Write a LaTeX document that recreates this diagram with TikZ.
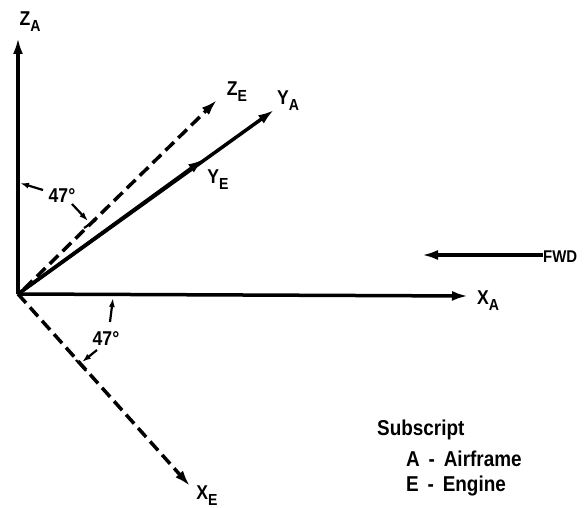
\documentclass[tikz,border=0pt]{standalone}
\usepackage{fontspec}
\setmainfont{Liberation Sans}[FakeStretch=0.88]
\usetikzlibrary{arrows.meta}
\newcommand{\lbl}[2]{#1\raisebox{-6pt}{\fontsize{16}{16}\selectfont #2}}
\begin{document}
\begin{tikzpicture}[x=1pt,y=-1pt,
  axis/.style={line width=3.5pt,-{Latex[length=16pt,width=10pt]}},
  daxis/.style={line width=3.5pt,dash pattern=on 12pt off 6pt,-{Latex[length=16pt,width=10pt]}},
  thin arrow/.style={line width=2.2pt,-{Latex[length=9pt,width=6pt]}},
  lab/.style={font=\bfseries\fontsize{20}{20}\selectfont,inner sep=0pt},
  ang/.style={font=\bfseries\fontsize{20}{20}\selectfont,inner sep=0pt},
  leg/.style={font=\bfseries\fontsize{21.5}{21.5}\selectfont,inner sep=0pt}]
\useasboundingbox (0,0) rectangle (584,508);
\coordinate (O) at (18,294);
\coordinate (ZAt) at (18,38);
\coordinate (XAt) at (468,296);
\coordinate (YAt) at (274,110);
\coordinate (YEt) at (204,159);
\coordinate (ZEs) at (24,289);
\coordinate (ZEt) at (217,100);
\coordinate (XEt) at (190,486);
\coordinate (FWDs) at (543,255);
\coordinate (FWDt) at (422,255);
% axes
\draw[axis] (O) -- (ZAt);
\draw[axis] (O) -- (XAt);
\draw[axis] (O) -- (YAt);
\draw[axis] (O) -- (YEt);
\draw[daxis] (ZEs) -- (ZEt);
\draw[daxis] (O) -- (XEt);
\draw[axis] (FWDs) -- (FWDt);
% labels
\node[lab] (ZA) at (30,22) {\lbl{Z}{A}};
\node[lab] (XA) at (488,301) {\lbl{X}{A}};
\node[lab] (YA) at (288,101) {\lbl{Y}{A}};
\node[lab] (YE) at (218,180) {\lbl{Y}{E}};
\node[lab] (ZE) at (237,92) {\lbl{Z}{E}};
\node[lab] (XE) at (207,496) {\lbl{X}{E}};
\node[lab,anchor=west,font=\bfseries\fontsize{17}{17}\selectfont] (FWD) at (543,257) {FWD};
% upper angle
\coordinate (a1) at (20,183);
\coordinate (a2) at (88,221);
\draw[thin arrow] (43,190) -- (a1);
\node[ang] (ang1) at (62,196) {47\textdegree};
\draw[thin arrow] (72,204) -- (a2);
\draw[line width=2.2pt] (84,228) -- (96,220);
% lower angle
\coordinate (b1) at (113,298);
\coordinate (b2) at (82,362);
\draw[thin arrow] (110,322) -- (b1);
\node[ang] (ang2) at (106,339) {47\textdegree};
\draw[thin arrow] (97,350) -- (b2);
\draw[line width=2.2pt] (76,360) -- (86,371);
% legend
\node[leg,anchor=west] (sub) at (377,430) {Subscript};
\node[leg,anchor=west] (la) at (406,459) {A\, -\, Airframe};
\node[leg,anchor=west] (le) at (406,486) {E\, -\, Engine};
\end{tikzpicture}
\end{document}
